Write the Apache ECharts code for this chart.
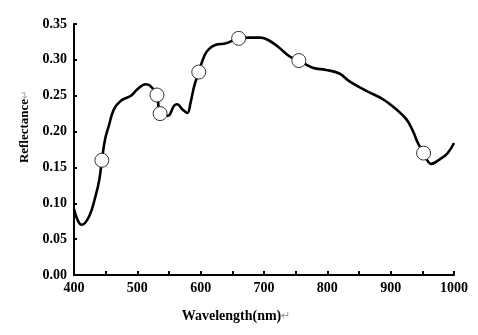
<!DOCTYPE html>
<html><head><meta charset="utf-8">
<script src="https://cdn.jsdelivr.net/npm/echarts@6/dist/echarts.min.js"></script>
<style>html,body{margin:0;padding:0;background:#fff}#c{width:478px;height:335px}</style>
</head><body><div id="c"></div>
<script>
var wavelengths = [400,412,424,434,440,444,449,455,463,474,490,500,513,520,531,536,548,558,563,571,579,584,590,597,606,613,624,640,660,677,695,708,724,740,755,777,798,819,835,861,888,909,925,935,943,952,964,977,990,1000];
var reflectance = [0.092,0.070,0.082,0.110,0.133,0.160,0.189,0.208,0.231,0.243,0.250,0.259,0.266,0.264,0.251,0.225,0.222,0.236,0.238,0.231,0.226,0.240,0.264,0.283,0.306,0.315,0.321,0.323,0.330,0.331,0.331,0.327,0.317,0.305,0.299,0.289,0.286,0.281,0.270,0.257,0.245,0.231,0.217,0.201,0.184,0.170,0.155,0.161,0.170,0.184];
var markerWavelengths = [444,531,536,597,660,755,952];
var markerReflectance = [0.160,0.251,0.225,0.283,0.330,0.299,0.170];
var xTicks = [400,500,600,700,800,900,1000];
var yTicks = [0,0.05,0.10,0.15,0.20,0.25,0.30,0.35];

var lineData = wavelengths.map(function(w,i){return [w,reflectance[i]];});
var markData = markerWavelengths.map(function(w,i){return [w,markerReflectance[i]];});
var font = '"Liberation Serif","Times New Roman",serif';
var chart = echarts.init(document.getElementById('c'));
chart.setOption({
  animation:false,
  grid:{left:74,right:24,top:24,bottom:60},
  xAxis:{type:'value',min:400,max:1000,interval:50,
    axisLine:{lineStyle:{color:'#000',width:2}},
    axisTick:{inside:true,length:4,lineStyle:{color:'#000',width:2}},
    splitLine:{show:false},
    axisLabel:{color:'#000',fontFamily:font,fontWeight:'bold',fontSize:14,margin:6,
      formatter:function(v){return xTicks.indexOf(v)>=0?String(v):'';}}},
  yAxis:{type:'value',min:0,max:0.35,interval:0.05,
    axisLine:{show:true,lineStyle:{color:'#000',width:2}},
    axisTick:{show:true,inside:true,length:3,lineStyle:{color:'#000',width:2}},
    splitLine:{show:false},
    axisLabel:{color:'#000',fontFamily:font,fontWeight:'bold',fontSize:14,margin:7,
      formatter:function(v){return v.toFixed(2);}}},
  series:[
    {type:'line',data:lineData,smooth:0.4,showSymbol:false,symbol:'none',
      lineStyle:{color:'#000',width:2.6},z:2},
    {type:'scatter',data:markData,symbol:'circle',symbolSize:14,
      itemStyle:{color:'#fff',borderColor:'#333',borderWidth:1,opacity:1},z:3}
  ],
  graphic:[
    {type:'text',x:25,y:127,rotation:Math.PI/2,
      style:{text:'{a|Reflectance}{b|↵}',align:'center',verticalAlign:'middle',
        rich:{a:{fontFamily:font,fontWeight:'bold',fontSize:13,fill:'#000'},
              b:{fontFamily:font,fontSize:10,fill:'#999'}}}},
    {type:'text',x:236,y:316,
      style:{text:'{a|Wavelength(nm)}{b|↵}',align:'center',verticalAlign:'middle',
        rich:{a:{fontFamily:font,fontWeight:'bold',fontSize:14,fill:'#000'},
              b:{fontFamily:font,fontSize:11,fill:'#999'}}}}
  ]
});
</script></body></html>
